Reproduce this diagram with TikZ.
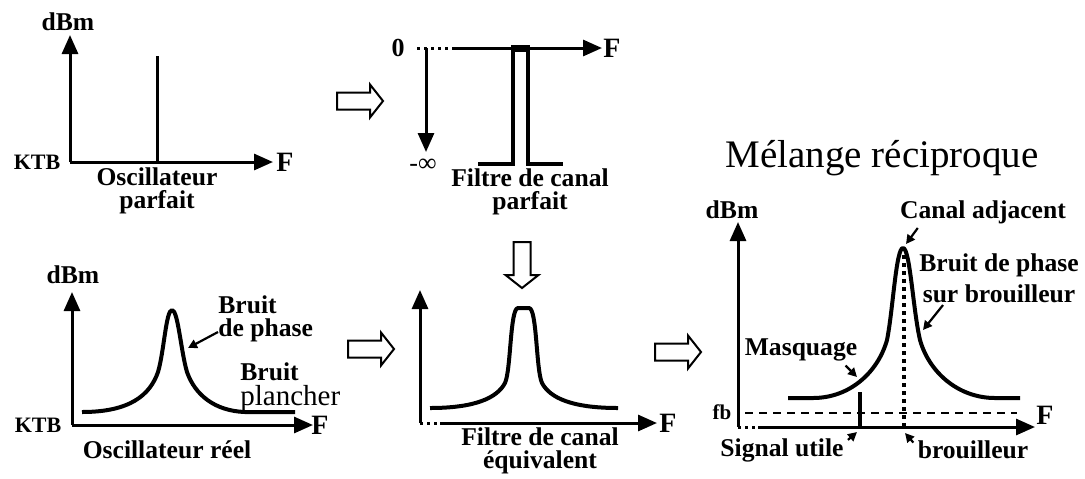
\documentclass[tikz,border=0pt]{standalone}
\usepackage{fontspec}
\setmainfont{Liberation Serif}
\usetikzlibrary{arrows.meta}

\begin{document}
\begin{tikzpicture}[
  x=0.5pt, y=-0.5pt,
  lbl/.style={font=\fontsize{12.8}{11.5}\selectfont\bfseries, align=center, inner sep=0pt},
  small/.style={font=\fontsize{11}{12}\selectfont\bfseries, inner sep=0pt},
  big/.style={font=\fontsize{14}{14}\selectfont\bfseries, inner sep=0pt},
  axis/.style={line width=1.5pt, -{Triangle[length=9.5pt,width=8pt]}},
  plain/.style={line width=1.5pt},
  curve/.style={line width=2pt, line join=round},
  pointer/.style={line width=1.1pt, -{Triangle[length=4.5pt,width=4.5pt]}},
  hollow/.pic={\draw[line width=1pt, fill=white] (0,-8.5) -- (33,-8.5) -- (33,-16.5)
    -- (46,0) -- (33,16.5) -- (33,8.5) -- (0,8.5) -- cycle;},
]
\useasboundingbox (0,0) rectangle (1085,478);

% --- Oscillateur parfait (oben links) ---
\coordinate (oA) at (70,162);
\coordinate (yA) at (70,35);
\coordinate (xA) at (273,162);
\draw[axis] (oA) -- (yA);
\draw[axis] (oA) -- (xA);
\draw[plain] (157,56) -- (157,162);
\node[lbl] (dbmA) at (68,22) {dBm};
\node[small] (ktbA) at (37,162) {KTB};
\node[big] (fA) at (285,162) {F};
\node[lbl] (oscA) at (157,191) {Oscillateur\\parfait};

% --- Filtre de canal parfait (oben Mitte) ---
\pic at (337,101) {hollow};
\coordinate (oB) at (426,48);
\coordinate (dB) at (426,152);
\coordinate (xB) at (602,48);
\draw[plain, dotted] (417,48) -- (452,48);
\draw[axis] (452,48) -- (xB);
\draw[axis] (oB) -- (dB);
\fill (511,45) rectangle (530,52);
\draw[plain, line width=1.6pt] (478,164) -- (513,164) -- (513,48) -- (528,48) -- (528,164) -- (563,164);
\node[font=\fontsize{13}{14}\selectfont\bfseries, inner sep=0pt] (zeroB) at (398,48) {0};
\node[inner sep=0pt, font=\fontsize{13}{14}\selectfont] (infB) at (423,165) {-∞};
\node[big] (fB) at (612,48) {F};
\node[lbl] (filtB) at (530,192) {Filtre de canal\\parfait};

% --- Oscillateur reel (unten links) ---
\coordinate (oC) at (72,425);
\coordinate (yC) at (72,292);
\coordinate (xC) at (313,425);
\draw[axis] (oC) -- (yC);
\draw[axis] (oC) -- (xC);
\draw[curve] (82,412) .. controls (130,412) and (150,395) .. (158,372)
  .. controls (164,352) and (166,310) .. (172,310)
  .. controls (178,310) and (181,352) .. (187,372)
  .. controls (195,395) and (215,411) .. (245,412) -- (295,412);
\coordinate (phtipC) at (188,348);
\node[lbl] (dbmC) at (73,275) {dBm};
\node[small] (ktbC) at (38,425) {KTB};
\node[big] (fC) at (320,425) {F};
\node[lbl, anchor=west, align=left] (phC) at (218,319) {Bruit\\de phase};
\node[lbl, anchor=west] (brC) at (240,372) {Bruit};
\node[inner sep=0pt, anchor=west, font=\fontsize{14.5}{16}\selectfont] (plC) at (240,399) {plancher};
\node[lbl] (oscC) at (167,450) {Oscillateur réel};
\draw[pointer] ([yshift=-6.5pt]phC.west) -- (phtipC);

% --- Filtre de canal equivalent (unten Mitte) ---
\pic at (348,349) {hollow};
\pic[rotate=-90] at (522,242) {hollow};
\coordinate (oD) at (420,423);
\coordinate (yD) at (420,290);
\coordinate (xD) at (657,423);
\draw[axis] (oD) -- (yD);
\draw[plain, dotted] (oD) -- (440,423);
\draw[axis] (440,423) -- (xD);
\draw[curve] (430,408) .. controls (475,408) and (497,398) .. (505,383)
  .. controls (511,370) and (510,308) .. (518,308) -- (529,308)
  .. controls (537,308) and (536,370) .. (542,383)
  .. controls (550,398) and (572,408) .. (618,408);
\node[big] (fD) at (668,423) {F};
\node[lbl] (filtD) at (540,451) {Filtre de canal\\équivalent};

% --- Melange reciproque (rechts) ---
\node[inner sep=0pt, font=\fontsize{19.5}{22}\selectfont] (titre) at (882,158) {Mélange réciproque};
\pic at (655,352) {hollow};
\coordinate (oE) at (738,427);
\coordinate (yE) at (738,222);
\coordinate (xE) at (1035,427);
\draw[axis] (oE) -- (yE);
\draw[plain, dotted] (oE) -- (758,427);
\draw[axis] (758,427) -- (xE);
\draw[line width=0.8pt, dash pattern=on 4pt off 3pt] (745,413) -- (1017,413);
\draw[line width=2pt] (860,392) -- (860,427);
\draw[line width=2pt, dash pattern=on 2pt off 2pt] (904,255) -- (904,427);
\draw[curve] (788,398) -- (813,398) .. controls (850,398) and (878,372) .. (887,340)
  .. controls (893,310) and (896,248) .. (903,248)
  .. controls (910,248) and (913,310) .. (920,340)
  .. controls (929,372) and (958,398) .. (995,398) -- (1020,398);
\coordinate (adjtip) at (906,244);
\coordinate (bpbtip) at (923,330);
\coordinate (masqtip) at (857,377);
\coordinate (sigtip) at (857,432);
\coordinate (broutip) at (905,433);
\node[lbl] (dbmE) at (732,210) {dBm};
\node[lbl] (adj) at (983,212) {Canal adjacent};
\node[lbl] (bpb) at (999,278) {Bruit de phase\\[3pt]sur brouilleur};
\node[lbl] (masq) at (801,350) {Masquage};
\node[font=\fontsize{10.5}{12}\selectfont\bfseries, inner sep=0pt] (fb) at (722,412) {fb};
\node[big] (fE) at (1045,415) {F};
\node[lbl] (sig) at (782,450) {Signal utile};
\node[lbl] (brou) at (973,450) {brouilleur};
\draw[pointer] ([xshift=9pt,yshift=-2pt]adj.south west) -- (adjtip);
\draw[pointer] ([xshift=-28pt,yshift=-1pt]bpb.south) -- (bpbtip);
\draw[pointer] ([xshift=-6pt,yshift=-2pt]masq.south east) -- (masqtip);
\draw[pointer] ([xshift=2pt,yshift=-1pt]sig.north east) -- (sigtip);
\draw[pointer] ([xshift=-2pt,yshift=-1pt]brou.north west) -- (broutip);

\end{tikzpicture}
\end{document}
